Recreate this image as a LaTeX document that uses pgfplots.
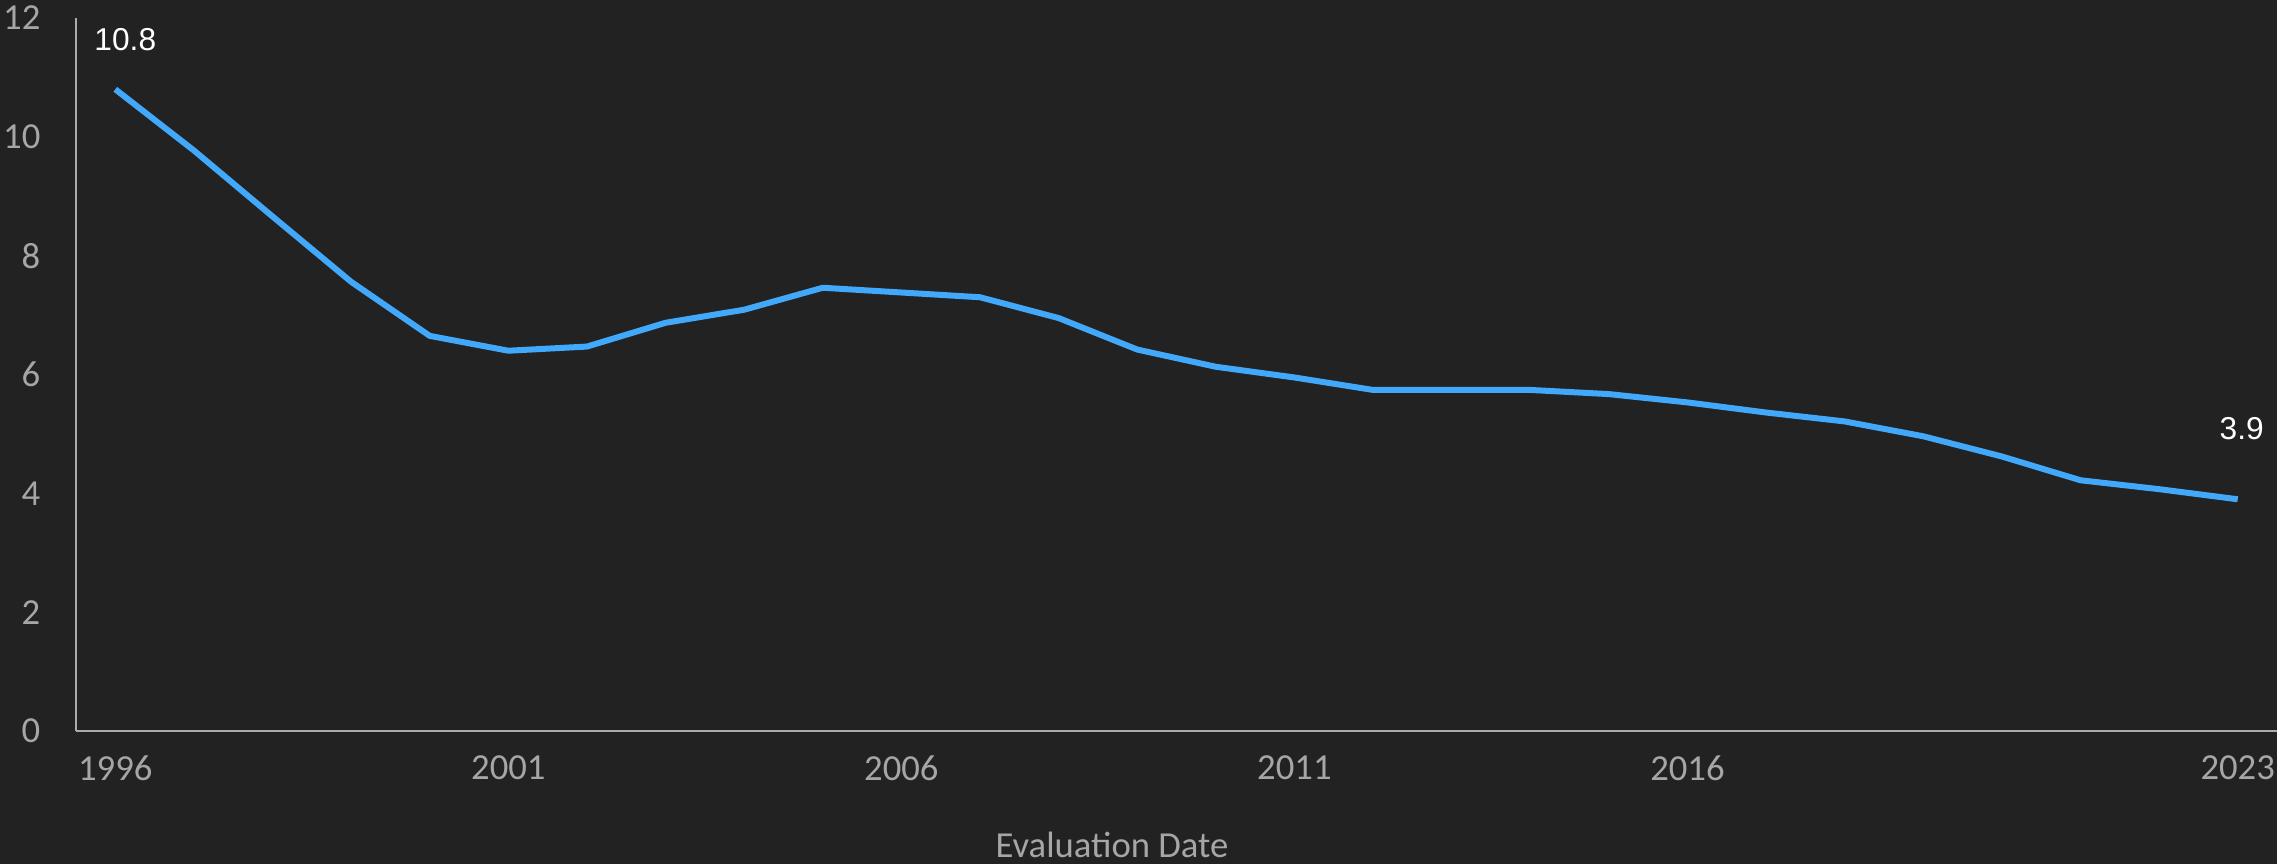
\documentclass[border=0pt]{standalone}
\usepackage{pgfplots}
\usepackage{pgfplotstable}
\pgfplotsset{compat=1.18}
\usepackage{fontspec}
\setmainfont{Carlito}
\newfontfamily\labelfont{Liberation Sans}

\definecolor{bg}{HTML}{222222}
\definecolor{series}{RGB}{66,168,250}
\definecolor{axisgray}{RGB}{172,172,172}
\definecolor{ticktext}{RGB}{166,166,166}

% Yearly values by evaluation date
\pgfplotstableread{
year value
1996 10.8
1997 9.77
1998 8.66
1999 7.56
2000 6.65
2001 6.40
2002 6.47
2003 6.87
2004 7.09
2005 7.46
2006 7.38
2007 7.30
2008 6.95
2009 6.42
2010 6.13
2011 5.95
2012 5.74
2013 5.74
2014 5.74
2015 5.67
2016 5.53
2017 5.36
2018 5.21
2019 4.96
2020 4.62
2021 4.22
2022 4.07
2023 3.9
}\ratetable

\begin{document}
\begin{tikzpicture}[x=1pt,y=1pt]
\fill[bg] (0,0) rectangle (683.1,259.2);
\useasboundingbox (0,0) rectangle (683.1,259.2);
\begin{axis}[
  at={(22.8pt,39.9pt)}, anchor=south west,
  scale only axis, width=660.3pt, height=213.9pt,
  xmin=1995.5, xmax=2023.5, ymin=0, ymax=12,
  axis lines*=left,
  axis line style={axisgray, line width=0.55pt},
  tick style={draw=none}, major tick length=0pt,
  xtick={1996,2001,2006,2011,2016,2023},
  xticklabels={1996,2001,2006,2011,2016,2023},
  ytick={0,2,4,6,8,10,12},
  yticklabels={0,2,4,6,8,10,12},
  x tick label style={font=\fontsize{11}{13}\selectfont, text=ticktext,
    anchor=north, inner sep=0pt, yshift=-7.2pt},
  y tick label style={font=\fontsize{11}{13}\selectfont, text=ticktext,
    anchor=east, inner sep=0pt, xshift=-10.5pt},
  xlabel={Evaluation Date},
  xlabel style={at={(rel axis cs:0.4707,0)}, anchor=base, inner sep=0pt,
    yshift=-38.1pt, font=\fontsize{11}{13}\selectfont, text=ticktext},
  clip=false,
]
\addplot[series, line width=1.8pt, line join=round, mark=none]
  table[x=year, y=value] {\ratetable};
\node[anchor=base, inner sep=0pt, xshift=3pt, yshift=11.7pt, text=white,
  font=\labelfont\fontsize{9.5}{11}\selectfont] at (axis cs:1996,10.8) {10.8};
\node[anchor=base, inner sep=0pt, xshift=1.2pt, yshift=18pt, text=white,
  font=\labelfont\fontsize{9.5}{11}\selectfont] at (axis cs:2023,3.9) {3.9};
\end{axis}
\end{tikzpicture}
\end{document}
